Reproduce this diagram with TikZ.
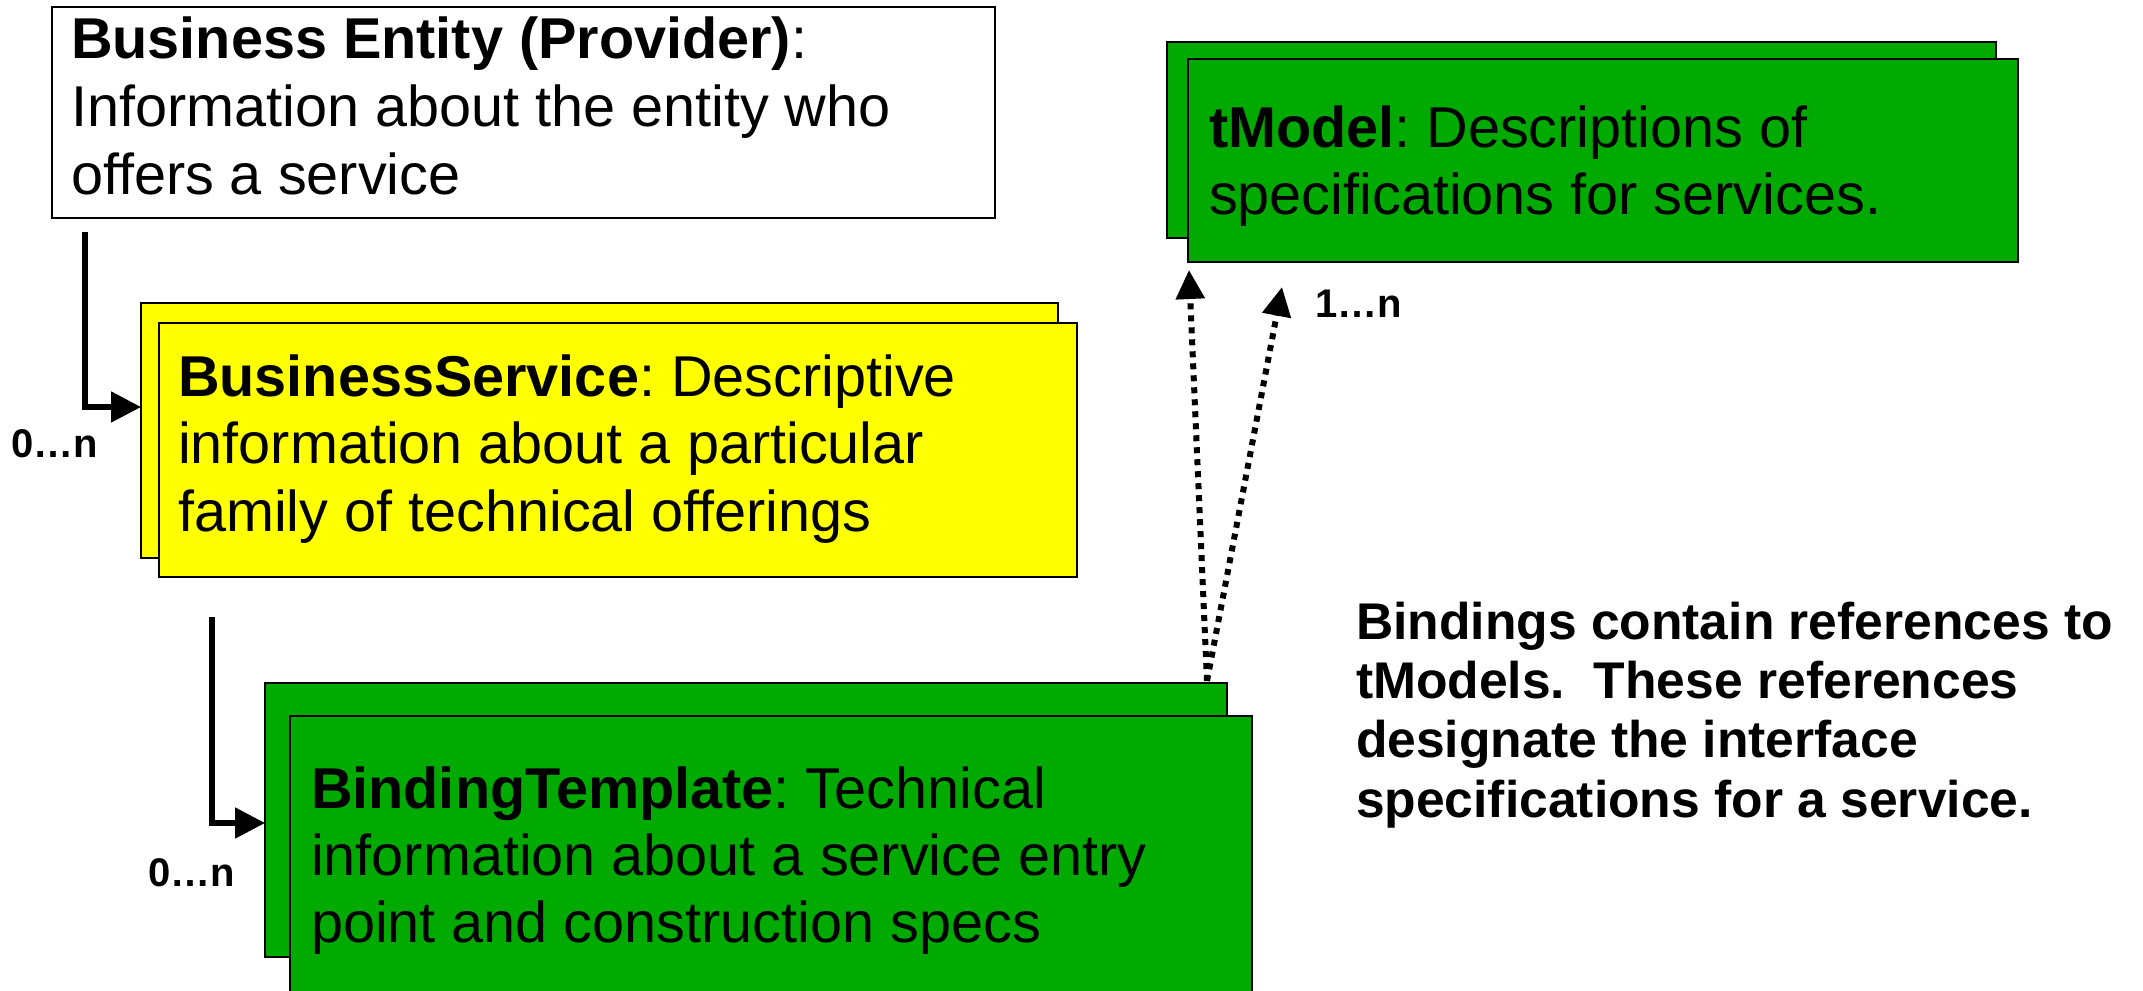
\documentclass[tikz,border=0pt]{standalone}
\usepackage{fontspec}
\setmainfont{Liberation Sans}
\usetikzlibrary{arrows.meta,calc}
\definecolor{boxgreen}{RGB}{0,170,0}
\definecolor{boxyellow}{RGB}{255,255,0}
\frenchspacing
\begin{document}
\begin{tikzpicture}[x=0.5pt,y=-0.5pt,
  box/.style={draw=black, line width=1pt, rectangle, anchor=north west, inner sep=0pt, outer sep=0pt},
  boxtxt/.style={anchor=base west, inner sep=0pt, outer sep=0pt, font=\fontsize{28.8pt}{33.5pt}\selectfont},
  notetxt/.style={anchor=base west, inner sep=0pt, outer sep=0pt, font=\fontsize{25.8pt}{29.65pt}\selectfont\bfseries},
  mult/.style={anchor=base west, inner sep=0pt, outer sep=0pt, font=\fontsize{20pt}{24pt}\selectfont\bfseries},
  conn/.style={line width=2.6pt, -{Triangle[length=15pt,width=15pt]}},
  ref/.style={line width=3pt, dash pattern=on 3pt off 3pt, -{Triangle[length=14.5pt,width=14pt]}}
]
\useasboundingbox (0,0) rectangle (2143,991);
% boxes
\node[box, fill=white, minimum width=471.5pt, minimum height=105.5pt] (be) at (52,7) {};
\node[box, fill=boxyellow, minimum width=458.5pt, minimum height=127.5pt] (bsback) at (141,303) {};
\node[box, fill=boxyellow, minimum width=459pt, minimum height=127pt] (bs) at (159,323) {};
\node[box, fill=boxgreen, minimum width=414.5pt, minimum height=98pt] (tmback) at (1167,42) {};
\node[box, fill=boxgreen, minimum width=415pt, minimum height=101.5pt] (tm) at (1188,59) {};
\node[box, fill=boxgreen, minimum width=481pt, minimum height=137pt] (btback) at (265,683) {};
\node[box, fill=boxgreen, minimum width=481pt, minimum height=150pt] (bt) at (290,716) {};
% texts
\node[boxtxt] (be1) at (71,58) {\textbf{Business Entity (Provider)}:};
\node[boxtxt] (be2) at (71,126) {Information about the entity who};
\node[boxtxt] (be3) at (71,194) {offers a service};
\node[boxtxt] (bs1) at (178,396) {\textbf{BusinessService}: Descriptive};
\node[boxtxt] (bs2) at (178,463) {information about a particular};
\node[boxtxt] (bs3) at (178,531) {family of technical offerings};
\node[boxtxt] (tm1) at (1209,147) {\textbf{tModel}: Descriptions of};
\node[boxtxt] (tm2) at (1209,214) {specifications for services.};
\node[boxtxt] (bt1) at (311,808) {\textbf{BindingTemplate}: Technical};
\node[boxtxt] (bt2) at (311,875) {information about a service entry};
\node[boxtxt] (bt3) at (311,942) {point and construction specs};
\node[notetxt] (n1) at (1356,639) {Bindings contain references to};
\node[notetxt] (n2) at (1356,698) {tModels.\ \ These references};
\node[notetxt] (n3) at (1356,757) {designate the interface};
\node[notetxt] (n4) at (1356,817) {specifications for a service.};
\node[mult] (m1) at (11,457) {0…n};
\node[mult] (m2) at (148,886) {0…n};
\node[mult] (m3) at (1315,317) {1…n};
% connectors
\coordinate (s1) at (85,232);
\draw[conn] (s1) |- ($(bsback.west)+(0,-23.5)$);
\coordinate (s2) at (212,617);
\draw[conn] (s2) |- ($(btback.west)+(0,3)$);
\coordinate (d0) at ($(btback.north east)+(-20,-2)$);
\coordinate (t1) at ($(tm.south west)+(1,8)$);
\coordinate (t2) at ($(tm.south west)+(94,25)$);
\draw[ref] (d0) -- (t1);
\draw[ref] (d0) -- (t2);
\end{tikzpicture}
\end{document}
